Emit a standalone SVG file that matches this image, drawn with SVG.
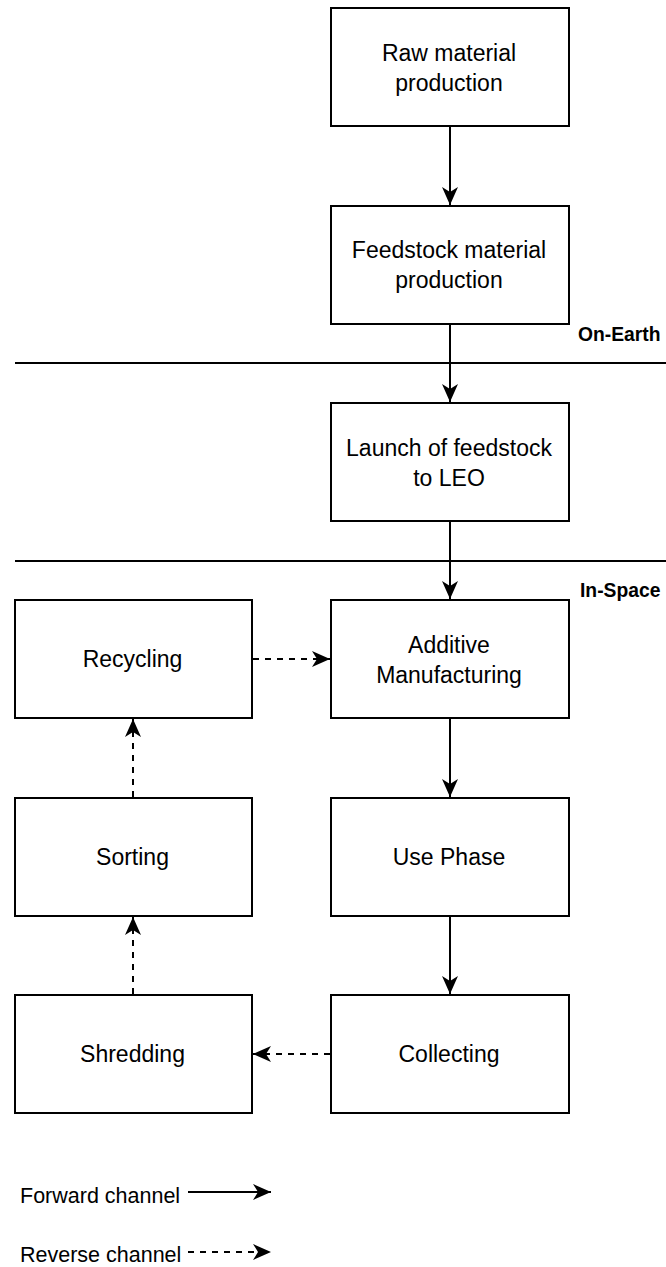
<svg xmlns="http://www.w3.org/2000/svg" width="666" height="1267" viewBox="0 0 666 1267">
  <style>
    .box { fill: #ffffff; stroke: #000000; stroke-width: 2; }
    .lbl { font-family: "Liberation Sans", Arial, sans-serif; font-size: 23px; fill: #000000; text-anchor: middle; }
    .zone { font-family: "Liberation Sans", Arial, sans-serif; font-size: 19.3px; font-weight: bold; fill: #000000; }
    .legend { font-family: "Liberation Sans", Arial, sans-serif; font-size: 21.5px; fill: #000000; }
    .fwd { fill: none; stroke: #000000; stroke-width: 2; marker-end: url(#arrow); }
    .rev { fill: none; stroke: #000000; stroke-width: 2; stroke-dasharray: 6 6; marker-end: url(#arrow); }
    .sep { stroke: #000000; stroke-width: 2; }
  </style>
  <defs>
    <!-- classic notched arrowhead, tip at the line end -->
    <marker id="arrow" markerUnits="userSpaceOnUse" markerWidth="20" markerHeight="20" viewBox="0 0 20 20" refX="19" refY="10" orient="auto">
      <path d="M1,2 L19,10 L1,18 L6,10 Z" fill="#000000"/>
    </marker>
  </defs>
  <rect width="666" height="1267" fill="#ffffff"/>

  <!-- zone separators -->
  <g id="zones">
    <line class="sep" x1="15" y1="363" x2="666" y2="363"/>
    <line class="sep" x1="15" y1="561" x2="666" y2="561"/>
    <text class="zone" x="578" y="341">On-Earth</text>
    <text class="zone" x="580" y="597">In-Space</text>
  </g>

  <!-- connectors -->
  <g id="connectors">
    <line class="fwd" x1="450" y1="127" x2="450" y2="205"/>
    <line class="fwd" x1="450" y1="325" x2="450" y2="402"/>
    <line class="fwd" x1="450" y1="522" x2="450" y2="599"/>
    <line class="fwd" x1="450" y1="719" x2="450" y2="797"/>
    <line class="fwd" x1="450" y1="917" x2="450" y2="994"/>
    <line class="rev" x1="253" y1="659" x2="330" y2="659"/>
    <line class="rev" x1="133" y1="797" x2="133" y2="719"/>
    <line class="rev" x1="133" y1="994" x2="133" y2="917"/>
    <line class="rev" x1="330" y1="1054" x2="253" y2="1054"/>
  </g>

  <g id="raw-material">
    <rect class="box" x="331" y="8" width="238" height="118"/>
    <text class="lbl" x="449" y="61">Raw material</text>
    <text class="lbl" x="449" y="91">production</text>
  </g>
  <g id="feedstock-production">
    <rect class="box" x="331" y="206" width="238" height="118"/>
    <text class="lbl" x="449" y="258">Feedstock material</text>
    <text class="lbl" x="449" y="288">production</text>
  </g>
  <g id="launch">
    <rect class="box" x="331" y="403" width="238" height="118"/>
    <text class="lbl" x="449" y="456">Launch of feedstock</text>
    <text class="lbl" x="449" y="486">to LEO</text>
  </g>
  <g id="additive-manufacturing">
    <rect class="box" x="331" y="600" width="238" height="118"/>
    <text class="lbl" x="449" y="653">Additive</text>
    <text class="lbl" x="449" y="683">Manufacturing</text>
  </g>
  <g id="use-phase">
    <rect class="box" x="331" y="798" width="238" height="118"/>
    <text class="lbl" x="449" y="865">Use Phase</text>
  </g>
  <g id="collecting">
    <rect class="box" x="331" y="995" width="238" height="118"/>
    <text class="lbl" x="449" y="1062">Collecting</text>
  </g>
  <g id="recycling">
    <rect class="box" x="15" y="600" width="237" height="118"/>
    <text class="lbl" x="132.5" y="667">Recycling</text>
  </g>
  <g id="sorting">
    <rect class="box" x="15" y="798" width="237" height="118"/>
    <text class="lbl" x="132.5" y="865">Sorting</text>
  </g>
  <g id="shredding">
    <rect class="box" x="15" y="995" width="237" height="118"/>
    <text class="lbl" x="132.5" y="1062">Shredding</text>
  </g>

  <!-- legend -->
  <g id="legend">
    <text class="legend" x="20" y="1203">Forward channel</text>
    <line class="fwd" x1="188" y1="1192" x2="271" y2="1192"/>
    <text class="legend" x="20" y="1262">Reverse channel</text>
    <line class="rev" x1="188" y1="1252" x2="271" y2="1252"/>
  </g>
</svg>
